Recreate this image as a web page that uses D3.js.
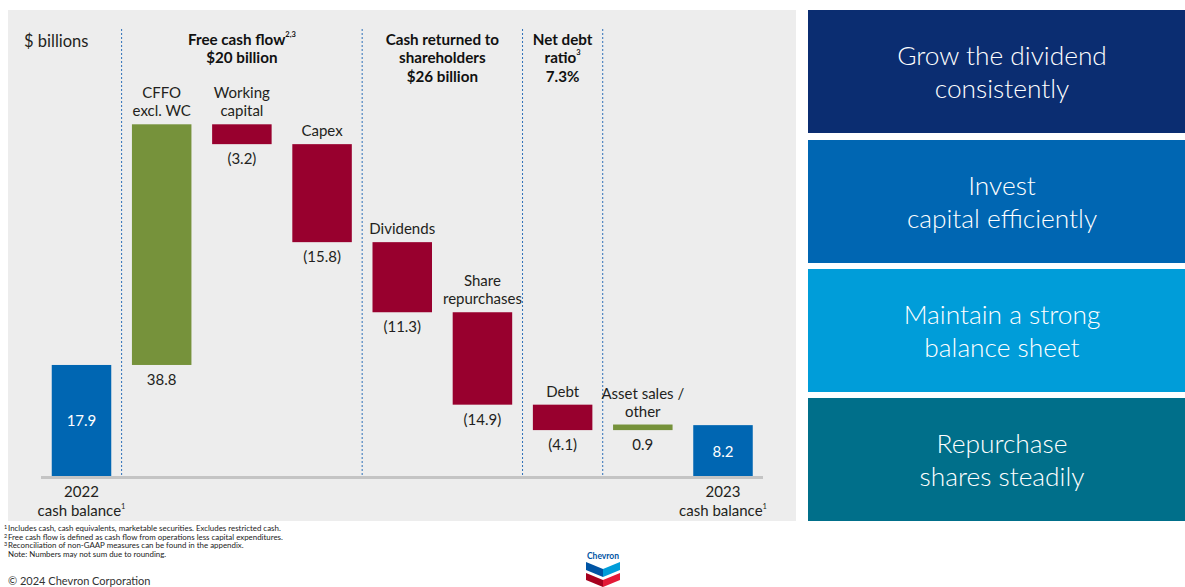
<!DOCTYPE html>
<html><head><meta charset="utf-8">
<script src="https://cdn.jsdelivr.net/npm/d3@7"></script>
<style>
body{margin:0;background:#fff}
svg{display:block}
text{font-family:Lato,"Noto Sans",sans-serif}
</style>
</head><body>
<svg id="c" width="1185" height="587"></svg>
<script>
// ---- data ----
const categories = ["2022 cash balance","CFFO excl. WC","Working capital","Capex","Dividends","Share repurchases","Debt","Asset sales / other","2023 cash balance"];
const values = [17.9, 38.8, -3.2, -15.8, -11.3, -14.9, -4.1, 0.9, 8.2];
const kinds = ["total","increase","decrease","decrease","decrease","decrease","decrease","increase","total"];
const valueLabels = ["17.9","38.8","(3.2)","(15.8)","(11.3)","(14.9)","(4.1)","0.9","8.2"];
const categoryLines = [[],["CFFO","excl. WC"],["Working","capital"],["Capex"],["Dividends"],["Share","repurchases"],["Debt"],["Asset sales /","other"],[]];
const bottomLines = [["2022","cash balance"],[],[],[],[],[],[],[],["2023","cash balance"]];
const headerLines = [["Free cash flow","$20 billion"],["Cash returned to","shareholders","$26 billion"],["Net debt","ratio","7.3%"]];
const headerSups = [["2,3",""],["","",""],["","3",""]];
const headerSpans = [[1,3],[4,5],[6,6]];
const separatorsAfter = [0,3,5,6];
const pillarLines = [["Grow the dividend","consistently"],["Invest","capital efficiently"],["Maintain a strong","balance sheet"],["Repurchase","shares steadily"]];
const pillarColors = ["#0b2d71","#0066b2","#009dd9","#006f8a"];
const footnotes = [["1","Includes cash, cash equivalents, marketable securities. Excludes restricted cash."],["2","Free cash flow is defined as cash flow from operations less capital expenditures."],["3","Reconciliation of non-GAAP measures can be found in the appendix."],["","Note: Numbers may not sum due to rounding."]];

// ---- setup ----
const svg = d3.select("#c");
const colors = {total:"#0066b2", increase:"#76923b", decrease:"#98002e"};
const txt = "#231f20";

svg.append("rect").attr("x",8).attr("y",10).attr("width",788).attr("height",511).attr("fill","#ededed");

const x = d3.scalePoint().domain(categories).range([81.5, 723]);
const bw = 59.5;
const y = d3.scaleLinear().domain([0, 56.7]).range([476, 124.3]);

// waterfall
let run = 0;
const bars = categories.map((c,i)=>{
  let lo, hi;
  if (kinds[i]==="total") { lo = 0; hi = values[i]; run = values[i]; }
  else { const s = run; run += values[i]; lo = Math.min(s,run); hi = Math.max(s,run); }
  return {c, i, lo, hi, v: values[i], kind: kinds[i]};
});

// separators
separatorsAfter.forEach(i=>{
  const sx = (x(categories[i]) + x(categories[i+1]))/2;
  svg.append("line").attr("x1",sx).attr("x2",sx).attr("y1",29).attr("y2",476)
    .attr("stroke","#2d6fb8").attr("stroke-width",1).attr("stroke-dasharray","2,2");
});

// baseline
svg.append("line").attr("x1",41).attr("x2",763).attr("y1",y(0)+1.5).attr("y2",y(0)+1.5)
  .attr("stroke","#c4c4c4").attr("stroke-width",3);

// bars
svg.selectAll("rect.bar").data(bars).enter().append("rect").attr("class","bar")
  .attr("x",d=>x(d.c)-bw/2).attr("width",bw)
  .attr("y",d=>y(d.hi)).attr("height",d=>y(d.lo)-y(d.hi))
  .attr("fill",d=>colors[d.kind]);

// value labels
bars.forEach(d=>{
  const t = svg.append("text").attr("x",x(d.c)).attr("text-anchor","middle")
    .attr("font-size",15).text(valueLabels[d.i]);
  if (d.kind==="total") t.attr("y",(y(d.hi)+y(d.lo))/2+6).attr("fill","#fff");
  else t.attr("y",y(d.lo)+20).attr("fill",txt);
});

// category labels above bars
bars.forEach(d=>{
  const lines = categoryLines[d.i];
  lines.forEach((l,k)=>{
    svg.append("text").attr("x",x(d.c)).attr("text-anchor","middle").attr("font-size",15)
      .attr("fill",txt).attr("y",y(d.hi)-8-(lines.length-1-k)*18).text(l);
  });
});

// bottom labels
bars.forEach(d=>{
  const lines = bottomLines[d.i];
  lines.forEach((l,k)=>{
    const t = svg.append("text").attr("x",x(d.c)).attr("text-anchor","middle").attr("font-size",15)
      .attr("fill",txt).attr("y",497+k*18.5);
    t.append("tspan").text(l);
    if (k===1) t.append("tspan").attr("font-size",7.5).attr("dy",-7).text("1");
  });
});

// unit label
svg.append("text").attr("x",24).attr("y",46.5).attr("font-size",16.5).attr("fill",txt).text("$ billions");

// headers
const headerY = [45,62.5,82];
headerLines.forEach((lines,h)=>{
  const cx = (x(categories[headerSpans[h][0]]) + x(categories[headerSpans[h][1]]))/2;
  lines.forEach((l,k)=>{
    const t = svg.append("text").attr("x",cx).attr("y",headerY[k]).attr("text-anchor","middle")
      .attr("font-size",15.2).attr("font-weight","bold").attr("fill","#111");
    t.append("tspan").text(l);
    const s = headerSups[h][k];
    if (s) t.append("tspan").attr("font-size",7.5).attr("dy",-8).text(s);
  });
});

// pillars
const pTop = [10,140,269,398], pH = 123;
pillarLines.forEach((lines,i)=>{
  svg.append("rect").attr("x",808).attr("y",pTop[i]).attr("width",377).attr("height",pH).attr("fill",pillarColors[i]);
  const cy = pTop[i]+pH/2;
  lines.forEach((l,k)=>{
    svg.append("text").attr("x",1002).attr("y",cy-6.5+k*32.5).attr("text-anchor","middle")
      .attr("font-size",26.3).attr("font-weight",300).attr("fill","#fff").text(l);
  });
});

// footnotes
footnotes.forEach((f,i)=>{
  const t = svg.append("text").attr("x",8).attr("y",531+i*8.7).attr("font-size",7.9).attr("fill","#222");
  if (f[0]) t.append("tspan").attr("x",4).attr("font-size",5.5).attr("dy",-2).text(f[0]);
  t.append("tspan").attr("x",8).attr("dy",f[0]?2:0).text(f[1]);
});
svg.append("text").attr("x",8).attr("y",585).attr("font-size",11).attr("fill","#333").text("© 2024 Chevron Corporation");

// logo
const lg = svg.append("g");
lg.append("text").attr("x",603).attr("y",559).attr("text-anchor","middle").attr("font-size",8.5)
  .attr("font-weight","bold").attr("fill","#0054a4").text("Chevron");
lg.append("path").attr("d","M586,562 L603,569 L603,577 L586,570 Z").attr("fill","#0054a4");
lg.append("path").attr("d","M620,562 L603,569 L603,577 L620,570 Z").attr("fill","#009dd9");
lg.append("path").attr("d","M586,573 L603,580 L603,587 L586,580 Z").attr("fill","#a6001e");
lg.append("path").attr("d","M620,573 L603,580 L603,587 L620,580 Z").attr("fill","#e31937");
</script>
</body></html>
